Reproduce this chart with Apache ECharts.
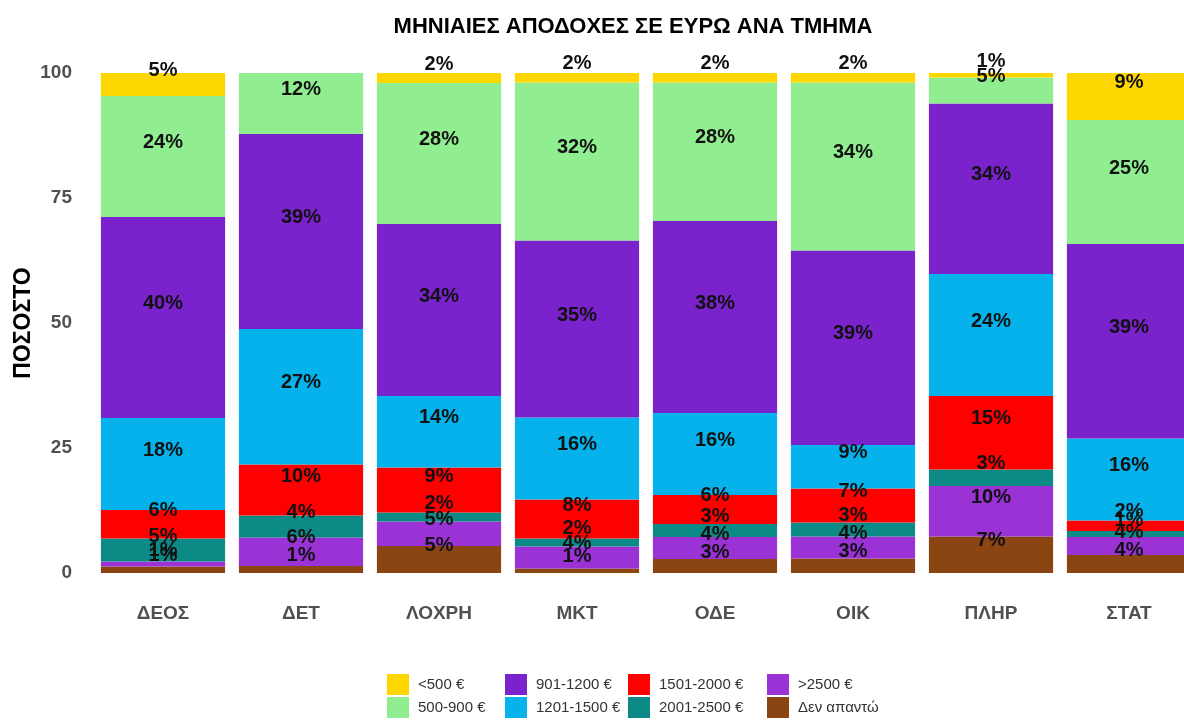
<!DOCTYPE html>
<html>
<head>
<meta charset="utf-8">
<script src="https://cdn.jsdelivr.net/npm/echarts@6/dist/echarts.min.js"></script>
<style>
  html, body { margin: 0; padding: 0; background: #fff; }
  #chart { width: 1184px; height: 722px; }
</style>
</head>
<body>
<div id="chart"></div>
<script>
const FONT = '"Liberation Sans", Arial, sans-serif'

const departments = ['ΔΕΟΣ', 'ΔΕΤ', 'ΛΟΧΡΗ', 'ΜΚΤ', 'ΟΔΕ', 'ΟΙΚ', 'ΠΛΗΡ', 'ΣΤΑΤ']
const yTicks = [0, 25, 50, 75, 100]

// shares per salary band, in percent (bottom of the stack first)
const noAnswer = [1.3, 1.4, 5.4, 0.9, 2.8, 2.9, 7.3, 3.6]
const over2500 = [1.0, 5.7, 4.9, 4.4, 4.4, 4.4, 10.1, 3.6]
const band2001 = [4.6, 4.4, 1.8, 1.6, 2.6, 2.8, 3.3, 1.2]
const band1501 = [5.7, 10.2, 9.0, 7.8, 5.8, 6.8, 14.7, 2.1]
const band1201 = [18.4, 27.1, 14.3, 16.4, 16.4, 8.7, 24.4, 16.4]
const band901 = [40.2, 39.0, 34.4, 35.4, 38.4, 38.9, 34.1, 38.9]
const band500 = [24.2, 12.2, 28.2, 31.6, 27.7, 33.6, 5.2, 24.8]
const under500 = [4.6, 0, 2.0, 1.9, 1.9, 1.9, 0.9, 9.4]

const bands = [
  { name: 'Δεν απαντώ', data: noAnswer, color: '#8B4513' },
  { name: '>2500 €', data: over2500, color: '#9A32D6' },
  { name: '2001-2500 €', data: band2001, color: '#0B8A86' },
  { name: '1501-2000 €', data: band1501, color: '#FF0000' },
  { name: '1201-1500 €', data: band1201, color: '#05B2EC' },
  { name: '901-1200 €', data: band901, color: '#7A22CB' },
  { name: '500-900 €', data: band500, color: '#90EE90' },
  { name: '<500 €', data: under500, color: '#FFD700' }
]

// legend laid out column by column, two rows
const legendSlots = [
  { name: '<500 €', left: 387, top: 674 },
  { name: '500-900 €', left: 387, top: 697 },
  { name: '901-1200 €', left: 505, top: 674 },
  { name: '1201-1500 €', left: 505, top: 697 },
  { name: '1501-2000 €', left: 628, top: 674 },
  { name: '2001-2500 €', left: 628, top: 697 },
  { name: '>2500 €', left: 767, top: 674 },
  { name: 'Δεν απαντώ', left: 767, top: 697 }
]

const chart = echarts.init(document.getElementById('chart'), null, { renderer: 'canvas' })

const option = {
  animation: false,
  backgroundColor: '#ffffff',
  textStyle: { fontFamily: FONT },
  title: {
    text: 'ΜΗΝΙΑΙΕΣ ΑΠΟΔΟΧΕΣ ΣΕ ΕΥΡΩ ΑΝΑ ΤΜΗΜΑ',
    left: 633,
    top: 16,
    textAlign: 'center',
    padding: 0,
    textStyle: { fontFamily: FONT, fontSize: 22, fontWeight: 'bold', color: '#000' }
  },
  legend: legendSlots.map(slot => ({
    data: [slot.name],
    left: slot.left,
    top: slot.top,
    padding: 0,
    icon: 'rect',
    itemWidth: 22,
    itemHeight: 21,
    selectedMode: false,
    textStyle: { fontFamily: FONT, fontSize: 15, color: '#333', padding: [0, 0, 0, 4] }
  })),
  grid: {
    left: 94,
    right: -14,
    top: 73,
    bottom: 149,
    outerBoundsMode: 'none'
  },
  xAxis: {
    type: 'category',
    data: departments,
    axisLine: { show: false },
    axisTick: { show: false },
    axisLabel: { margin: 31, fontFamily: FONT, fontSize: 19, fontWeight: 'bold', color: '#505050' }
  },
  yAxis: {
    type: 'value',
    min: yTicks[0],
    max: yTicks[yTicks.length - 1],
    interval: 25,
    name: 'ΠΟΣΟΣΤΟ',
    nameLocation: 'middle',
    nameRotate: 90,
    nameGap: 59,
    nameMoveOverlap: false,
    nameTextStyle: { fontFamily: FONT, fontSize: 23, fontWeight: 'bold', color: '#000' },
    splitLine: { show: false },
    axisLine: { show: false },
    axisTick: { show: false },
    axisLabel: { margin: 22, fontFamily: FONT, fontSize: 19, fontWeight: 'bold', color: '#505050' }
  },
  series: bands.map(band => ({
    name: band.name,
    type: 'bar',
    stack: 'total',
    data: band.data,
    barCategoryGap: '10%',
    itemStyle: { color: band.color },
    emphasis: { disabled: true },
    label: {
      show: true,
      position: 'inside',
      offset: [0, -14],
      fontFamily: FONT,
      fontSize: 20,
      fontWeight: 'bold',
      color: '#111',
      formatter: p => (p.value > 0 ? Math.round(p.value) + '%' : '')
    }
  }))
}

chart.setOption(option)
</script>
</body>
</html>
